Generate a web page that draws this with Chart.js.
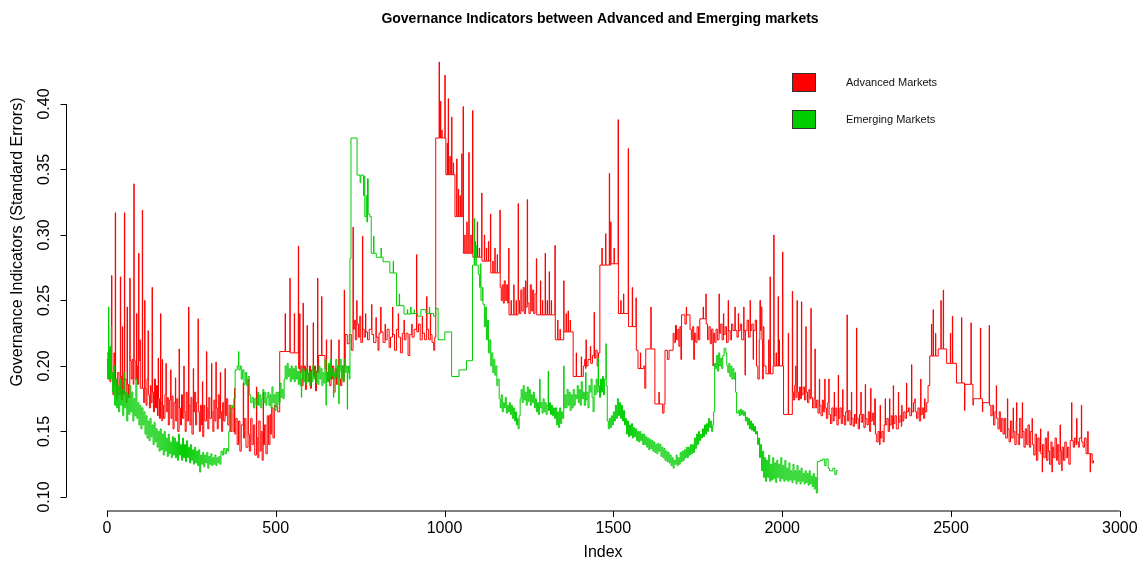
<!DOCTYPE html>
<html>
<head>
<meta charset="utf-8">
<title>Governance Indicators</title>
<script src="https://cdn.jsdelivr.net/npm/chart.js@4/dist/chart.umd.min.js"></script>
<style>
	body {margin: 0; background: #fff;}
	canvas {display: block;}
</style>
</head>
<body>
<canvas id="chart" width="1142" height="561"></canvas>
<script>
const chartTitle = 'Governance Indicators between Advanced and Emerging markets'
const xTitle = 'Index'
const yTitle = 'Governance Indicators (Standard Errors)'
const seriesLabels = ['Advanced Markets', 'Emerging Markets']
const xTicks = [0, 500, 1000, 1500, 2000, 2500, 3000]
const yTicks = [0.10, 0.15, 0.20, 0.25, 0.30, 0.35, 0.40]

// [index, standard error]
const advancedSeries = [
	[0,0.205],[3,0.19],[6,0.212],[9,0.188],[12,0.2],[14,0.269],[15,0.195],[18,0.178],[21,0.21],[23,0.185],[25,0.317],[26,0.19],[29,0.175],
	[32,0.195],[36,0.178],[40,0.268],[41,0.192],[44,0.174],[46,0.23],[47,0.19],[50,0.178],[52,0.317],[53,0.19],[57,0.172],[60,0.245],[61,0.186],[64,0.176],[68,0.267],[69,0.204],
	[72,0.19],[75,0.205],[78,0.186],[80,0.339],[81,0.204],[84,0.19],[88,0.24],[89,0.2],[91,0.186],[94,0.286],[95,0.204],[98,0.22],[99,0.183],
	[105,0.319],[106,0.183],[109,0.172],[112,0.25],[113,0.183],[116,0.17],[119,0.19],[122,0.227],[123,0.178],[126,0.168],[129,0.185],
	[131,0.172],[134,0.26],[135,0.18],[138,0.165],[141,0.19],[144,0.168],[147,0.185],[150,0.162],[152,0.206],[153,0.175],[156,0.16],[159,0.24],[160,0.172],[163,0.158],[164,0.205],[165,0.17],[168,0.16],
	[172,0.178],[175,0.202],[176,0.165],[179,0.176],[182,0.155],[185,0.174],[189,0.197],[190,0.16],[193,0.177],[196,0.152],[199,0.172],[203,0.191],[204,0.158],[207,0.175],[210,0.15],[214,0.213],[215,0.168],[218,0.155],[221,0.178],[224,0.16],[228,0.2],[229,0.165],[232,0.15],[235,0.18],[238,0.158],[242,0.245],[243,0.17],[246,0.155],[249,0.176],[252,0.148],[256,0.198],[257,0.165],
	[260,0.18],[263,0.155],[266,0.172],[270,0.236],[271,0.165],[274,0.15],[277,0.17],[280,0.155],[283,0.188],[284,0.146],[287,0.17],[290,0.158],[295,0.211],[296,0.168],[299,0.152],[302,0.176],[305,0.16],[310,0.202],[311,0.165],[314,0.15],[317,0.174],[320,0.158],[323,0.203],[324,0.168],[327,0.152],[330,0.178],[333,0.16],[336,0.195],[337,0.165],[340,0.15],[343,0.172],[346,0.158],[350,0.198],[351,0.162],[354,0.175],[358,0.155],[362,0.17],[366,0.15],[370,0.168],[374,0.15],
	[378,0.183],[379,0.148],[382,0.16],[386,0.14],[390,0.158],[394,0.135],[398,0.155],[404,0.187],[405,0.145],[408,0.16],[412,0.138],[418,0.19],[419,0.148],[422,0.135],[426,0.16],[430,0.14],[434,0.155],[438,0.132],[443,0.184],[444,0.145],[447,0.13],[450,0.158],[454,0.135],[457,0.15],[460,0.128],[463,0.18],[464,0.14],[467,0.155],[471,0.133],[475,0.162],[479,0.14],[483,0.163],[484,0.148],[488,0.168],[492,0.145],[496,0.17],
	[500,0.169],[506,0.165],[512,0.211],[528,0.24],[529,0.211],[542,0.267],[543,0.21],[555,0.24],[556,0.21],[567,0.2915],[568,0.198],[571,0.24],[572,0.195],
	[575,0.2],[578,0.185],[581,0.248],[582,0.196],[585,0.2],[588,0.182],[591,0.198],[593,0.231],[594,0.194],[597,0.188],[600,0.2],[603,0.183],[606,0.197],[611,0.233],[612,0.192],[615,0.2],[618,0.181],[621,0.196],[624,0.267],[625,0.195],
	[627,0.208],[636,0.253],[637,0.208],
	[646,0.198],[650,0.22],[651,0.195],[654,0.188],[657,0.2],[660,0.185],[664,0.22],[665,0.19],[668,0.2],[672,0.18],[676,0.198],[680,0.186],[684,0.2],[687,0.22],[688,0.19],[692,0.185],[696,0.2],[700,0.188],[703,0.258],[704,0.2],
	[706,0.224],[712,0.217],[718,0.224],[724,0.212],[729,0.306],[730,0.228],
	[733,0.235],[736,0.22],[740,0.25],[741,0.232],[745,0.222],[749,0.238],[752,0.218],[757,0.299],[758,0.228],[762,0.222],[766,0.24],[767,0.226],[772,0.22],[777,0.228],[784,0.247],[785,0.224],[790,0.218],[797,0.237],[798,0.222],[803,0.212],[806,0.225],[811,0.245],[812,0.226],[818,0.218],[824,0.232],[825,0.22],[830,0.228],[836,0.214],[840,0.222],[846,0.245],[847,0.224],[852,0.212],[858,0.228],[863,0.24],[864,0.222],[870,0.21],[875,0.225],[880,0.235],[881,0.22],[886,0.225],[892,0.208],[897,0.224],[903,0.232],[904,0.222],[910,0.228],[917,0.285],[918,0.226],[923,0.232],[928,0.22],[934,0.238],[935,0.225],[941,0.22],[947,0.253],[948,0.228],[953,0.22],[958,0.24],[959,0.224],[963,0.218],[968,0.212],[971,0.222],
	[974,0.374],[984,0.432],[985,0.374],[988,0.402],[989,0.374],[992,0.38],[993,0.374],[1001,0.422],[1002,0.374],
	[1004,0.346],[1008,0.37],[1009,0.346],[1011,0.404],[1012,0.346],[1016,0.36],[1017,0.346],[1021,0.39],[1022,0.346],[1026,0.355],[1027,0.346],
	[1031,0.314],[1036,0.358],[1037,0.314],[1041,0.335],[1042,0.314],[1046,0.33],[1047,0.314],[1051,0.362],[1052,0.314],[1055,0.398],[1056,0.286],
	[1060,0.3],[1061,0.286],[1066,0.31],[1067,0.286],[1072,0.363],[1073,0.286],[1078,0.3],[1079,0.286],[1083,0.395],[1084,0.283],
	[1090,0.295],[1091,0.283],[1097,0.31],[1098,0.283],[1103,0.29],[1104,0.283],[1110,0.332],[1111,0.28],
	[1118,0.3],[1119,0.28],[1124,0.29],[1125,0.28],[1130,0.295],[1131,0.28],[1136,0.316],[1137,0.271],
	[1143,0.28],[1144,0.271],[1149,0.29],[1150,0.271],[1156,0.285],[1157,0.271],[1164,0.319],[1165,0.26],
	[1168,0.25],[1171,0.262],[1174,0.248],[1177,0.265],[1180,0.25],[1184,0.262],[1187,0.248],[1190,0.29],[1191,0.239],
	[1197,0.25],[1198,0.239],[1205,0.262],[1206,0.239],[1212,0.25],[1213,0.239],[1218,0.324],[1219,0.25],
	[1222,0.24],[1226,0.258],[1229,0.242],[1233,0.26],[1236,0.24],[1240,0.265],[1241,0.245],[1245,0.327],[1246,0.248],[1250,0.24],[1254,0.262],[1257,0.242],[1261,0.258],[1264,0.24],[1268,0.255],[1272,0.282],[1273,0.239],
	[1284,0.265],[1285,0.239],[1290,0.25],[1291,0.239],[1298,0.286],[1299,0.239],[1304,0.25],[1305,0.239],[1310,0.272],[1311,0.239],[1316,0.25],[1317,0.239],[1327,0.292],[1328,0.22],
	[1335,0.235],[1336,0.22],[1342,0.228],[1343,0.22],[1353,0.265],[1354,0.226],[1360,0.24],[1361,0.226],[1366,0.242],[1367,0.226],[1372,0.235],[1373,0.226],[1381,0.192],[1390,0.21],[1391,0.192],[1405,0.207],[1406,0.192],[1411,0.2],
	[1415,0.205],[1418,0.198],[1419,0.22],[1420,0.2],[1425,0.205],[1432,0.215],[1433,0.202],[1438,0.208],[1443,0.241],[1444,0.206],[1448,0.212],[1452,0.2],[1456,0.21],
	[1460,0.277],[1466,0.29],[1467,0.277],[1477,0.301],[1478,0.277],[1488,0.347],[1489,0.277],[1492,0.31],[1493,0.278],[1502,0.29],[1503,0.278],[1514,0.388],[1515,0.24],
	[1522,0.25],[1523,0.24],[1530,0.255],[1531,0.24],[1544,0.366],[1545,0.23],[1556,0.26],[1557,0.23],[1567,0.252],[1568,0.212],[1573,0.198],[1580,0.21],[1581,0.198],[1590,0.2],[1593,0.183],[1596,0.213],[1611,0.245],[1612,0.213],[1623,0.171],[1635,0.18],[1636,0.171],[1646,0.164],[1650,0.171],[1653,0.212],[1660,0.205],[1665,0.212],
	[1677,0.225],[1680,0.218],[1684,0.231],[1687,0.22],[1691,0.228],[1694,0.215],[1697,0.23],[1700,0.205],[1702,0.239],
	[1712,0.232],[1716,0.245],[1717,0.239],[1727,0.228],[1731,0.22],[1735,0.23],[1738,0.205],[1740,0.225],[1744,0.218],[1748,0.23],[1752,0.22],[1756,0.236],
	[1766,0.245],[1767,0.236],[1774,0.255],[1775,0.232],[1779,0.22],[1783,0.23],[1787,0.217],[1791,0.228],[1795,0.2],[1796,0.225],[1800,0.218],[1804,0.228],
	[1808,0.22],[1813,0.255],[1814,0.225],[1818,0.232],[1822,0.22],[1826,0.24],[1827,0.224],[1831,0.23],[1835,0.218],[1840,0.25],[1841,0.227],[1846,0.22],[1850,0.232],[1854,0.227],[1860,0.245],[1861,0.227],[1866,0.222],[1870,0.24],[1871,0.227],[1876,0.232],[1880,0.22],[1886,0.245],[1887,0.227],[1890,0.193],[1891,0.227],[1896,0.235],[1900,0.222],[1905,0.25],[1906,0.227],[1910,0.232],[1914,0.205],[1915,0.227],[1920,0.235],[1924,0.2],[1928,0.19],[1932,0.22],
	[1934,0.25],[1936,0.227],[1938,0.245],[1940,0.22],[1942,0.19],[1944,0.23],[1946,0.2],
	[1952,0.194],[1960,0.22],[1961,0.194],[1964,0.268],[1965,0.194],[1973,0.2],[1975,0.3],[1976,0.2],[1982,0.21],[1983,0.2],[1988,0.253],[1989,0.2],[1991,0.22],[1992,0.2],[2001,0.287],[2002,0.2],[2004,0.163],[2018,0.225],[2019,0.163],[2030,0.257],[2031,0.18],
	[2034,0.174],[2037,0.185],[2040,0.2],[2041,0.176],[2044,0.25],[2045,0.18],[2048,0.174],[2051,0.184],[2054,0.175],[2057,0.249],[2058,0.178],[2062,0.184],[2066,0.174],[2070,0.23],[2071,0.18],[2075,0.172],[2079,0.182],[2082,0.175],[2085,0.244],[2086,0.176],
	[2090,0.168],[2094,0.175],[2097,0.213],[2098,0.168],[2102,0.174],[2106,0.164],[2110,0.19],[2111,0.17],[2115,0.162],[2119,0.174],[2122,0.165],[2126,0.19],[2127,0.168],[2131,0.16],[2135,0.172],[2138,0.19],[2139,0.163],
	[2143,0.156],[2147,0.168],[2151,0.158],[2154,0.18],[2155,0.162],[2159,0.168],[2162,0.155],[2166,0.193],[2167,0.16],[2171,0.168],[2175,0.156],[2179,0.182],[2180,0.162],[2184,0.155],[2188,0.165],[2192,0.239],[2193,0.158],[2197,0.166],
	[2201,0.155],[2205,0.18],[2206,0.16],[2210,0.154],[2214,0.163],[2218,0.156],[2220,0.229],[2221,0.16],[2225,0.152],[2229,0.163],[2233,0.18],[2234,0.157],[2238,0.163],[2242,0.153],[2246,0.186],[2247,0.16],[2251,0.155],[2255,0.165],[2259,0.15],[2262,0.183],[2263,0.158],[2267,0.164],[2271,0.155],[2274,0.175],
	[2276,0.148],[2280,0.142],[2284,0.15],[2288,0.14],[2290,0.17],[2291,0.145],[2295,0.15],[2299,0.142],
	[2302,0.155],[2305,0.175],[2306,0.155],[2310,0.16],[2314,0.15],[2318,0.175],[2319,0.155],[2323,0.162],[2327,0.152],[2329,0.185],[2330,0.156],[2334,0.162],[2338,0.152],[2344,0.18],[2345,0.157],[2349,0.162],[2353,0.154],[2354,0.17],[2355,0.158],
	[2360,0.165],[2364,0.16],[2368,0.187],[2369,0.165],[2374,0.168],[2378,0.162],[2383,0.201],[2384,0.165],[2389,0.172],[2393,0.175],[2394,0.165],[2398,0.16],[2402,0.168],[2406,0.158],[2410,0.19],[2411,0.163],[2415,0.168],[2419,0.16],[2422,0.175],[2423,0.165],[2428,0.172],[2432,0.185],
	[2437,0.2076],[2442,0.232],[2443,0.2076],[2447,0.243],[2448,0.2076],[2454,0.225],[2455,0.2076],[2462,0.213],[2470,0.25],[2471,0.213],[2477,0.258],[2478,0.213],[2487,0.202],[2498,0.225],[2499,0.202],[2504,0.238],[2505,0.202],[2516,0.187],[2531,0.237],[2532,0.187],[2540,0.166],[2541,0.186],[2559,0.233],[2560,0.186],[2565,0.17],[2566,0.175],[2587,0.229],[2588,0.175],[2593,0.165],[2594,0.172],[2613,0.231],[2614,0.17],
	[2618,0.162],[2622,0.17],[2626,0.155],[2630,0.165],[2634,0.185],[2635,0.16],[2639,0.152],[2643,0.165],[2646,0.15],[2650,0.16],
	[2654,0.148],[2658,0.16],[2662,0.145],[2667,0.175],[2668,0.152],[2672,0.142],[2676,0.158],[2680,0.145],[2684,0.168],[2685,0.15],[2689,0.14],[2693,0.158],[2694,0.172],[2695,0.148],[2699,0.14],[2703,0.16],[2707,0.145],[2711,0.172],[2712,0.15],[2716,0.138],[2720,0.152],[2724,0.14],[2728,0.155],
	[2732,0.138],[2736,0.15],[2740,0.16],[2741,0.14],[2745,0.132],[2749,0.148],[2753,0.128],[2757,0.145],[2761,0.135],[2765,0.152],[2766,0.133],[2770,0.119],[2771,0.14],[2775,0.13],[2779,0.145],[2783,0.128],[2787,0.15],[2788,0.135],[2792,0.125],[2796,0.142],[2799,0.119],[2800,0.138],[2804,0.13],[2808,0.145],[2812,0.128],[2815,0.14],[2819,0.125],[2823,0.155],[2824,0.135],[2828,0.12],[2829,0.138],[2833,0.128],[2837,0.142],[2841,0.13],[2845,0.138],[2849,0.125],
	[2853,0.143],[2857,0.172],[2858,0.143],[2862,0.138],[2866,0.145],[2870,0.14],[2872,0.16],[2873,0.142],[2877,0.138],[2880,0.145],[2886,0.17],[2887,0.142],[2891,0.138],[2895,0.145],[2900,0.133],[2905,0.15],[2906,0.133],[2912,0.119],[2913,0.133],[2918,0.126],[2922,0.128],
]

const emergingSeries = [
	[0,0.21],[3,0.19],[5,0.245],[6,0.2],[9,0.215],[11,0.19],[13,0.23],[14,0.195],[17,0.18],[20,0.2],[23,0.17],[26,0.19],[29,0.168],
	[32,0.185],[35,0.165],[38,0.19],[41,0.17],[44,0.182],[47,0.162],[50,0.195],[53,0.168],[56,0.18],[59,0.158],[62,0.178],[65,0.163],[68,0.185],
	[71,0.165],[74,0.18],[77,0.158],[80,0.175],[83,0.162],[86,0.19],[89,0.16],[92,0.172],[95,0.155],[98,0.17],[101,0.152],[104,0.168],[107,0.155],
	[110,0.165],[113,0.148],[116,0.162],[119,0.145],[122,0.158],[125,0.143],[128,0.16],[131,0.146],[134,0.155],[137,0.14],[140,0.157],[143,0.142],[146,0.152],[149,0.138],
	[152,0.15],[155,0.135],[158,0.152],[161,0.136],[164,0.148],[167,0.132],[170,0.15],[173,0.135],[176,0.145],[179,0.131],[182,0.148],[185,0.133],[188,0.142],[191,0.13],[194,0.146],[197,0.132],
	[200,0.145],[203,0.13],[206,0.142],[209,0.128],[212,0.148],[215,0.132],[218,0.14],[221,0.128],[224,0.145],[227,0.13],[230,0.14],[233,0.127],[236,0.143],[239,0.13],[242,0.138],[245,0.126],[248,0.14],[251,0.128],[254,0.136],[257,0.125],
	[260,0.138],[263,0.126],[266,0.135],[269,0.124],[272,0.136],[275,0.119],[278,0.132],[281,0.125],[284,0.134],[287,0.123],[290,0.132],[293,0.126],[296,0.134],[299,0.122],[302,0.131],[305,0.125],[308,0.133],[311,0.124],[314,0.13],[317,0.125],[320,0.132],[323,0.124],[326,0.13],[329,0.126],[332,0.131],[335,0.125],
	[338,0.135],[342,0.132],[346,0.137],[350,0.133],[354,0.137],[358,0.135],
	[361,0.15],[364,0.165],[368,0.17],[372,0.168],[376,0.175],
	[380,0.197],[386,0.2],[390,0.211],[391,0.197],[395,0.2],
	[398,0.19],[402,0.197],[406,0.186],[410,0.195],[414,0.185],[418,0.192],[422,0.178],
	[426,0.172],[430,0.176],[434,0.168],[438,0.175],[442,0.17],[446,0.18],[449,0.17],
	[453,0.178],[456,0.168],[459,0.175],[462,0.182],[465,0.172],[468,0.18],[471,0.17],[474,0.176],[477,0.18],[480,0.17],[483,0.178],[486,0.168],[489,0.184],[492,0.172],[495,0.178],[498,0.166],[501,0.18],[504,0.17],[507,0.18],[510,0.172],[513,0.187],[516,0.176],[519,0.182],[522,0.175],
	[525,0.19],[528,0.2],[531,0.19],[534,0.202],[537,0.192],[540,0.198],[543,0.188],[546,0.2],[549,0.19],[552,0.198],[555,0.188],[558,0.2],[561,0.19],[564,0.196],[567,0.186],[570,0.195],[573,0.185],[576,0.176],[577,0.19],[580,0.198],[583,0.188],[586,0.196],[589,0.186],[592,0.198],[595,0.188],[598,0.195],[601,0.185],[604,0.196],[607,0.188],[610,0.2],[613,0.19],[616,0.197],[619,0.187],
	[622,0.195],[625,0.186],[628,0.2],[631,0.19],[634,0.198],[637,0.185],[640,0.195],[643,0.187],[646,0.205],[649,0.17],[650,0.195],[653,0.188],[656,0.202],[659,0.19],[662,0.205],[665,0.192],[668,0.198],[671,0.176],[672,0.195],[675,0.19],[678,0.205],[681,0.192],[684,0.2],[687,0.171],[688,0.196],[691,0.205],[694,0.19],[697,0.2],[700,0.188],[703,0.205],[706,0.195],[709,0.2],[712,0.167],[713,0.195],[716,0.2],[718,0.19],
	[720,0.282],[723,0.374],[741,0.3457],[750,0.34],[752,0.3457],[760,0.33],[762,0.345],[764,0.314],[768,0.33],[770,0.31],[772,0.343],[774,0.316],[779,0.314],[783,0.286],[790,0.299],[791,0.286],[798,0.283],[812,0.29],[813,0.283],[818,0.2795],[838,0.271],[848,0.28],[849,0.271],[858,0.246],[866,0.255],[867,0.246],[880,0.2396],[890,0.243],[891,0.2396],[900,0.245],[901,0.24],[910,0.243],[911,0.24],[920,0.238],[930,0.243],[945,0.24],[955,0.245],[956,0.24],[968,0.238],[974,0.244],[981,0.22],[1001,0.226],[1021,0.192],[1043,0.197],[1065,0.204],[1083,0.277],
	[1088,0.3126],[1089,0.277],[1093,0.292],[1094,0.277],[1100,0.27],[1104,0.26],[1106,0.278],[1108,0.25],[1112,0.26],[1114,0.247],
	[1118,0.23],[1121,0.245],[1124,0.22],[1127,0.235],[1130,0.21],[1134,0.22],[1137,0.2],[1140,0.21],[1143,0.195],
	[1146,0.205],[1149,0.193],[1152,0.2],[1155,0.185],[1158,0.19],
	[1162,0.175],[1165,0.168],[1168,0.178],[1171,0.165],[1174,0.172],[1177,0.168],[1180,0.176],[1183,0.164],[1186,0.17],[1189,0.165],[1192,0.172],[1195,0.163],[1198,0.17],[1201,0.16],[1204,0.168],[1207,0.158],[1210,0.165],[1213,0.155],[1216,0.16],[1218,0.152],[1221,0.162],
	[1224,0.175],[1227,0.182],[1230,0.172],[1233,0.185],[1236,0.174],[1239,0.18],[1242,0.17],[1245,0.184],[1248,0.173],[1251,0.182],[1254,0.17],[1257,0.178],[1260,0.172],[1263,0.18],
	[1266,0.168],[1269,0.175],[1272,0.165],[1275,0.172],[1278,0.163],[1281,0.17],[1282,0.19],[1283,0.168],[1286,0.172],[1289,0.164],[1292,0.175],[1295,0.165],[1298,0.172],[1301,0.163],[1304,0.17],[1307,0.196],[1308,0.166],[1311,0.172],[1314,0.163],[1317,0.17],[1320,0.162],[1323,0.168],
	[1326,0.16],[1329,0.168],[1332,0.155],[1335,0.165],[1338,0.153],[1341,0.168],[1344,0.156],[1347,0.165],[1350,0.16],[1353,0.2],[1354,0.168],
	[1357,0.178],[1360,0.168],[1363,0.182],[1366,0.17],[1369,0.18],[1372,0.166],[1375,0.178],[1378,0.168],[1381,0.182],[1384,0.17],[1387,0.178],
	[1390,0.175],[1393,0.185],[1396,0.172],[1399,0.182],[1402,0.17],[1405,0.188],[1408,0.175],[1411,0.18],[1414,0.17],[1418,0.195],[1419,0.174],[1422,0.18],[1425,0.168],[1428,0.185],[1431,0.18],[1434,0.19],[1437,0.176],[1440,0.165],[1443,0.185],[1446,0.178],[1449,0.19],[1452,0.18],[1455,0.206],[1456,0.185],[1459,0.176],[1462,0.19],[1465,0.18],[1468,0.192],[1471,0.178],[1474,0.19],[1478,0.217],[1479,0.185],
	[1482,0.158],[1485,0.152],[1488,0.16],[1491,0.153],[1494,0.162],[1497,0.155],[1500,0.165],[1503,0.158],[1506,0.17],[1509,0.16],[1512,0.175],[1515,0.162],[1518,0.172],[1521,0.16],[1524,0.17],[1527,0.158],[1530,0.166],
	[1533,0.155],[1536,0.16],[1539,0.148],[1542,0.158],[1545,0.146],[1548,0.155],[1551,0.147],[1554,0.156],[1557,0.145],[1560,0.153],[1563,0.146],[1566,0.152],[1569,0.143],[1572,0.15],[1575,0.142],[1578,0.15],[1581,0.143],[1584,0.148],[1587,0.14],
	[1590,0.148],[1593,0.14],[1596,0.146],[1599,0.138],[1602,0.145],[1605,0.136],[1608,0.144],[1611,0.137],[1614,0.143],[1617,0.135],[1620,0.142],[1623,0.134],[1626,0.14],[1629,0.133],[1632,0.141],[1635,0.135],[1638,0.14],[1641,0.131],[1644,0.138],[1647,0.13],[1650,0.137],[1653,0.128],[1656,0.135],[1659,0.127],[1662,0.134],[1665,0.126],[1668,0.132],[1671,0.124],[1674,0.13],[1677,0.122],[1680,0.128],[1683,0.125],[1686,0.132],[1689,0.124],
	[1692,0.13],[1695,0.125],[1698,0.134],[1701,0.127],[1704,0.135],[1707,0.128],[1710,0.136],[1713,0.13],[1716,0.138],[1719,0.13],[1722,0.138],[1725,0.132],[1728,0.14],[1731,0.133],[1734,0.14],[1737,0.134],[1740,0.145],[1743,0.137],[1746,0.148],[1749,0.14],[1752,0.15],[1755,0.143],[1758,0.148],
	[1761,0.145],[1764,0.152],[1767,0.146],[1770,0.155],[1773,0.148],[1776,0.156],[1779,0.15],[1782,0.16],[1785,0.153],[1788,0.158],[1791,0.15],[1794,0.155],[1797,0.165],
	[1800,0.202],[1803,0.198],[1806,0.208],[1809,0.196],[1812,0.21],[1815,0.2],[1818,0.206],[1821,0.198],[1824,0.208],[1828,0.2135],[1833,0.21],[1836,0.2],[1839,0.195],[1842,0.202],[1845,0.192],[1848,0.2],[1851,0.19],[1854,0.198],[1857,0.19],[1860,0.195],[1862,0.18],
	[1865,0.164],[1870,0.166],[1873,0.162],[1876,0.167],[1879,0.163],[1882,0.166],[1885,0.162],[1888,0.165],[1891,0.158],[1894,0.161],[1897,0.155],[1900,0.16],[1903,0.152],[1906,0.158],[1909,0.151],[1912,0.156],[1915,0.15],[1918,0.154],[1921,0.148],[1924,0.15],[1927,0.14],[1930,0.145],[1933,0.13],[1936,0.14],[1939,0.12],[1942,0.135],
	[1945,0.115],[1948,0.13],[1951,0.112],[1954,0.128],[1957,0.115],[1960,0.132],[1963,0.112],[1966,0.125],[1969,0.113],[1972,0.13],[1975,0.114],[1978,0.126],[1981,0.111],[1984,0.128],[1987,0.115],[1990,0.125],[1993,0.112],[1996,0.13],[1999,0.114],[2002,0.124],[2005,0.112],[2008,0.128],[2011,0.113],[2014,0.122],[2017,0.112],[2020,0.126],[2023,0.113],[2026,0.12],[2029,0.111],[2032,0.125],[2035,0.113],[2038,0.12],[2041,0.11],[2044,0.124],[2047,0.112],[2050,0.12],[2053,0.11],[2056,0.122],[2059,0.112],[2062,0.118],[2065,0.11],[2068,0.12],[2071,0.111],[2074,0.118],[2077,0.109],[2080,0.12],[2083,0.11],[2086,0.116],[2089,0.108],[2092,0.118],[2095,0.106],[2098,0.115],[2101,0.103],
	[2104,0.127],[2112,0.128],[2120,0.129],[2126,0.124],[2130,0.129],[2136,0.122],[2140,0.12],[2144,0.12],[2150,0.122],[2156,0.117],[2160,0.12],[2165,0.12],
]

const seriesColors = ['#ff0000', '#00cd00']
const FONT = '"Liberation Sans", Arial, Helvetica, sans-serif'

function toPoints(series) {
	return series.map(([x, y]) => ({x, y}))
}

// R-style base graphics: title, open axes, rotated y labels and filled-box legend
const rStyle = {
	id: 'rStyle',
	afterDraw(chart) {
		const {ctx, chartArea, scales: {x, y}} = chart
		ctx.save()
		ctx.fillStyle = '#000'
		ctx.strokeStyle = '#000'
		ctx.lineWidth = 1

		ctx.font = 'bold 14px ' + FONT
		ctx.textAlign = 'center'
		ctx.textBaseline = 'middle'
		ctx.fillText(chartTitle, 600, 19)

		// x axis
		const axisY = chartArea.bottom
		ctx.beginPath()
		ctx.moveTo(x.getPixelForValue(xTicks[0]), axisY)
		ctx.lineTo(x.getPixelForValue(xTicks[xTicks.length - 1]), axisY)
		for (const tick of xTicks) {
			const px = Math.round(x.getPixelForValue(tick)) + 0.5
			ctx.moveTo(px, axisY)
			ctx.lineTo(px, axisY + 6)
		}
		ctx.stroke()
		ctx.font = '16px ' + FONT
		for (const tick of xTicks) {
			ctx.fillText(String(tick), x.getPixelForValue(tick), 529)
		}
		ctx.fillText(xTitle, 603, 553)

		// y axis
		const axisX = chartArea.left - 0.5
		ctx.beginPath()
		ctx.moveTo(axisX, y.getPixelForValue(yTicks[0]))
		ctx.lineTo(axisX, y.getPixelForValue(yTicks[yTicks.length - 1]))
		for (const tick of yTicks) {
			const py = Math.round(y.getPixelForValue(tick)) + 0.5
			ctx.moveTo(axisX, py)
			ctx.lineTo(axisX - 6, py)
		}
		ctx.stroke()
		ctx.font = '16px ' + FONT
		for (const tick of yTicks) {
			ctx.save()
			ctx.translate(45, y.getPixelForValue(tick))
			ctx.rotate(-Math.PI / 2)
			ctx.fillText(tick.toFixed(2), 0, 0)
			ctx.restore()
		}
		ctx.save()
		ctx.translate(18, 242)
		ctx.rotate(-Math.PI / 2)
		ctx.fillText(yTitle, 0, 0)
		ctx.restore()

		// legend
		ctx.font = '11px ' + FONT
		ctx.textAlign = 'left'
		chart.data.datasets.forEach((dataset, i) => {
			const top = 73 + i * 37
			ctx.fillStyle = dataset.borderColor
			ctx.fillRect(792, top, 24, 19)
			ctx.strokeStyle = '#333'
			ctx.strokeRect(792.5, top + 0.5, 23, 18)
			ctx.fillStyle = '#111'
			ctx.fillText(dataset.label, 846, top + 10)
		})
		ctx.restore()
	},
}

new Chart(document.getElementById('chart'), {
	type: 'line',
	data: {
		datasets: [
			{
				label: seriesLabels[0],
				data: toPoints(advancedSeries),
				borderColor: seriesColors[0],
				order: 1,
			},
			{
				label: seriesLabels[1],
				data: toPoints(emergingSeries),
				borderColor: seriesColors[1],
				order: 0,
			},
		],
	},
	options: {
		responsive: false,
		animation: false,
		devicePixelRatio: 1,
		layout: {padding: {left: 67, right: 11, top: 45, bottom: 50}},
		elements: {
			line: {borderWidth: 1, stepped: 'before', tension: 0, fill: false},
			point: {radius: 0, hoverRadius: 0},
		},
		scales: {
			x: {type: 'linear', min: -118, max: 3033, display: false},
			y: {type: 'linear', min: 0.0893, max: 0.445, display: false},
		},
		plugins: {
			legend: {display: false},
			title: {display: false},
			tooltip: {enabled: false},
		},
	},
	plugins: [rStyle],
})
</script>
</body>
</html>
